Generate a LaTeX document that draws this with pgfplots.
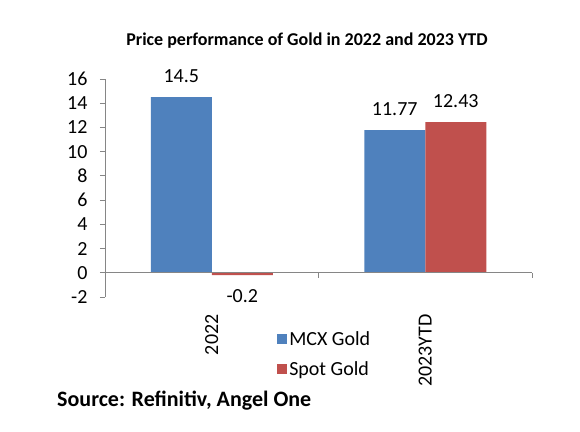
\documentclass[border=0pt]{standalone}
\usepackage{pgfplots}
\pgfplotsset{compat=1.18}
\usepackage{fontspec}
\setmainfont{Carlito}
\definecolor{mcx}{HTML}{4F81BD}
\definecolor{spot}{HTML}{C0504D}
\definecolor{axgray}{HTML}{868686}
\begin{document}
\begin{tikzpicture}
\path[use as bounding box] (0,0) rectangle (580bp,-432bp);
\node[font=\fontsize{18bp}{21bp}\selectfont\bfseries] at (307bp,-41bp) {Price performance of Gold in 2022 and 2023 YTD};
\begin{axis}[
  at={(105bp,-297bp)}, anchor=south west,
  scale only axis, width=427bp, height=218bp,
  xmin=-0.5, xmax=1.5, ymin=-2, ymax=16,
  clip=false,
  ybar=0pt, bar width=61bp,
  axis line style={draw=none},
  ytick={-2,0,...,16},
  ytick pos=left,
  tick align=outside,
  major tick length=5bp,
  ytick style={axgray, line width=0.8bp},
  xtick={0,1},
  xticklabels={2022,2023YTD},
  xtick style={draw=none},
  xticklabel style={rotate=90, anchor=east},
  xticklabel shift=9bp,
  /pgf/number format/assume math mode=true,
  ticklabel style={font=\fontsize{20bp}{24bp}\selectfont},
  yticklabel style={xshift=-9bp},
  nodes near coords,
  point meta=y,
  every node near coord/.append style={font=\fontsize{20bp}{24bp}\selectfont, inner ysep=14bp},
  legend style={at={(rel axis cs:0.403,-0.262)}, anchor=west, draw=none, fill=none,
    inner sep=0pt, font=\fontsize{20bp}{24bp}\selectfont, row sep=10bp,
    /tikz/every even column/.append style={column sep=4bp}},
  legend cell align=left,
  legend image code/.code={\fill[#1] (0bp,-5bp) rectangle (10bp,5bp);},
]
\addplot[fill=mcx, draw=none] coordinates {(0,14.5) (1,11.77)};
\addplot[fill=spot, draw=none] coordinates {(0,-0.2) (1,12.43)};
\legend{MCX Gold, Spot Gold}
\draw[axgray, line width=0.8bp] (axis cs:-0.5,-2) -- (axis cs:-0.5,16);
\draw[axgray, line width=0.8bp] (axis cs:-0.5,0) -- (axis cs:1.5,0);
\draw[axgray, line width=0.8bp] (axis cs:0.5,0) -- ([yshift=-5bp]axis cs:0.5,0);
\draw[axgray, line width=0.8bp] (axis cs:1.5,0) -- ([yshift=-5bp]axis cs:1.5,0);
\end{axis}
\node[anchor=west, font=\fontsize{22bp}{26bp}\selectfont\bfseries, inner sep=0pt] at (57bp,-401bp) {Source: Refinitiv, Angel One};
\end{tikzpicture}
\end{document}
